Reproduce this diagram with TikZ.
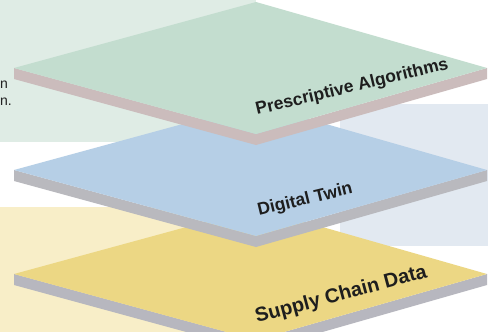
\documentclass[tikz,border=0pt]{standalone}
\usepackage{fontspec}
\setmainfont{Liberation Sans}
\definecolor{bandG}{HTML}{DFECE5}
\definecolor{bandB}{HTML}{E2E9F1}
\definecolor{bandY}{HTML}{F8EEC8}
\definecolor{topG}{HTML}{C3DDCF}
\definecolor{sideG}{HTML}{CBBCBC}
\definecolor{topB}{HTML}{B6CFE6}
\definecolor{sideB}{HTML}{B9B9BE}
\definecolor{topY}{HTML}{ECD784}
\definecolor{sideY}{HTML}{B7B7BF}
\definecolor{labelc}{HTML}{1E1E1E}
\definecolor{textc}{HTML}{222222}
\newcommand\drawplate[3]{%
  \fill[#3] (14,#1) -- (256,#1+66) -- (487,#1) -- (487,#1+11) -- (256,#1+77) -- (14,#1+11) -- cycle;
  \fill[#2] (14,#1) -- (256,#1-66) -- (487,#1) -- (256,#1+66) -- cycle;
}
\begin{document}
\begin{tikzpicture}[x=1pt,y=-1pt,
  lbl/.style={font=\bfseries\fontsize{17.5}{20}\selectfont, text=labelc, inner sep=0pt, anchor=base west},
  side/.style={font=\fontsize{14}{16}\selectfont, text=textc, inner sep=0pt, anchor=base east}]
\useasboundingbox (0,0) rectangle (488,332);
\fill[white] (0,0) rectangle (488,332);
% background bands
\fill[bandG] (0,0) rectangle (256,142);
\fill[bandB] (340,104) rectangle (488,246);
\fill[bandY] (0,207) rectangle (256,332);
% plates, back to front
\drawplate{274}{topY}{sideY}
\drawplate{170}{topB}{sideB}
\drawplate{68}{topG}{sideG}
% labels
\node[lbl, rotate=13.5] (pa) at (257,115) {Prescriptive Algorithms};
\node[lbl, rotate=13.6] (dt) at (259,216) {Digital Twin};
\node[lbl, rotate=15, font=\bfseries\fontsize{20}{22}\selectfont] (sc) at (257,323) {Supply Chain Data};
% cut-off side text
\node[side] (t1) at (8,88) {n};
\node[side] (t2) at (12,105) {n.};
\end{tikzpicture}
\end{document}
